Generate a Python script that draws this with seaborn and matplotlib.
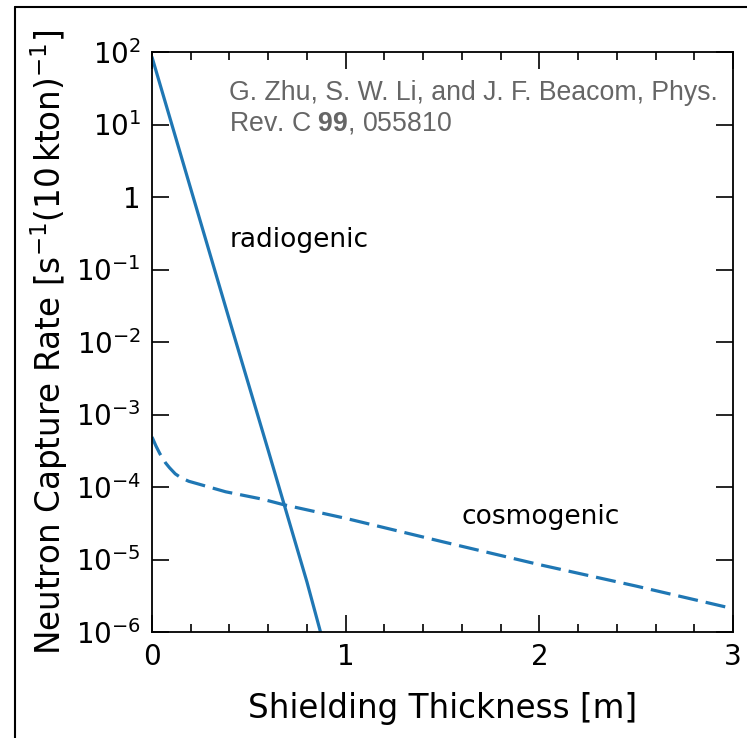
import matplotlib.pyplot as plt
import matplotlib.ticker as mticker
import seaborn as sns
from matplotlib.lines import Line2D

# Radiogenic neutron capture rate (straight line on log scale)
radio_x = [0.0, 0.2, 0.4, 0.6, 0.8, 0.87]
radio_y = [85, 1.3, 2.0e-2, 3.2e-4, 4.9e-6, 1.0e-6]

# Cosmogenic neutron capture rate (dashed)
cosmo_x = [0.0, 0.02, 0.04, 0.07, 0.09, 0.12, 0.15, 0.19, 0.24, 0.38, 0.57, 0.68,
           1.0, 1.5, 2.0, 2.5, 3.0]
cosmo_y = [4.9e-4, 3.7e-4, 2.9e-4, 2.15e-4, 1.85e-4, 1.52e-4, 1.34e-4, 1.2e-4, 1.10e-4,
           8.6e-5, 6.8e-5, 5.7e-5, 3.7e-5, 1.76e-5, 8.5e-6, 4.3e-6, 2.1e-6]

y_ticks = [1e-6, 1e-5, 1e-4, 1e-3, 1e-2, 1e-1, 1, 10, 100]
y_labels = [r"$10^{-6}$", r"$10^{-5}$", r"$10^{-4}$", r"$10^{-3}$", r"$10^{-2}$",
            r"$10^{-1}$", "1", r"$10^{1}$", r"$10^{2}$"]
x_ticks = [0, 1, 2, 3]

sns.set_style("ticks")
plt.rcParams["font.family"] = ["DejaVu Sans"]
plt.rcParams["mathtext.fontset"] = "dejavusans"
plt.rcParams["text.color"] = "black"
plt.rcParams["axes.labelcolor"] = "black"

fig = plt.figure(figsize=(7.47, 7.38), dpi=100)
ax = fig.add_axes([0.2035, 0.1436, 0.7778, 0.7859])

blue = "#1f77b4"
sns.lineplot(x=radio_x, y=radio_y, ax=ax, color=blue, lw=2.3)
sns.lineplot(x=cosmo_x, y=cosmo_y, ax=ax, color=blue, lw=2.3)
ax.lines[1].set_dashes((6.3, 2.5))

ax.set_yscale("log")
ax.set_xlim(0, 3)
ax.set_ylim(1e-6, 1e2)
ax.set_yticks(y_ticks)
ax.set_yticklabels(y_labels)
ax.yaxis.set_minor_locator(mticker.NullLocator())
ax.set_xticks(x_ticks)
ax.xaxis.set_minor_locator(mticker.MultipleLocator(0.2))

ax.tick_params(which="both", direction="in", top=True, right=True,
               labelsize=20, width=1.2, colors="black")
ax.tick_params(which="major", length=12, pad=8)
ax.tick_params(which="minor", length=6)
for s in ax.spines.values():
    s.set_linewidth(1.3)
    s.set_color("black")

ax.set_xlabel("Shielding Thickness [m]", fontsize=23.5, labelpad=15)
ax.set_ylabel(r"Neutron Capture Rate [s$^{-1}$(10$\,$kton)$^{-1}$]", fontsize=23.5, labelpad=4)

ax.text(0.40, 10**-0.59, "radiogenic", fontsize=19, va="center", ha="left")
ax.text(1.6, 10**-4.41, "cosmogenic", fontsize=19, va="center", ha="left")

cite_font = ["Liberation Sans", "DejaVu Sans"]
plt.rcParams["mathtext.fontset"] = "custom"
plt.rcParams["mathtext.bf"] = "Liberation Sans:bold"
ax.text(0.132, 0.930, "G. Zhu, S. W. Li, and J. F. Beacom, Phys.", transform=ax.transAxes,
        fontsize=19.2, color="#666666", family=cite_font, va="center", ha="left")
ax.text(0.132, 0.877, r"Rev. C $\mathbf{99}$, 055810", transform=ax.transAxes,
        fontsize=19.2, color="#666666", family=cite_font, va="center", ha="left")

# outer frame of the original figure
fig.add_artist(Line2D([15 / 747, 15 / 747], [0, 1 - 7 / 738], transform=fig.transFigure,
                      color="black", lw=1.5))
fig.add_artist(Line2D([15 / 747, 1], [1 - 7 / 738, 1 - 7 / 738], transform=fig.transFigure,
                      color="black", lw=1.5))

fig.savefig("out.png", dpi=100)
